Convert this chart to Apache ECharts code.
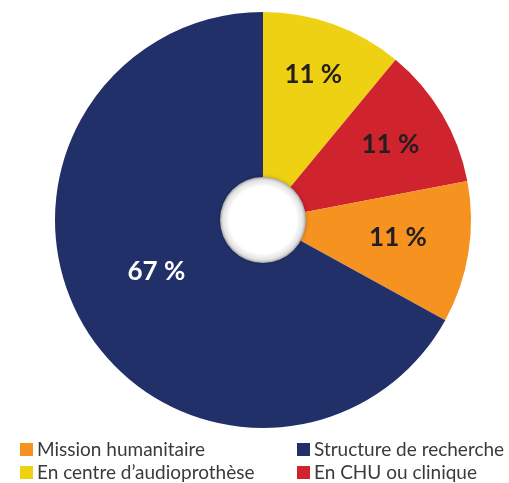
<!DOCTYPE html>
<html>
<head>
<meta charset="utf-8">
<script src="https://cdn.jsdelivr.net/npm/echarts@6/dist/echarts.min.js"></script>
<style>html,body{margin:0;padding:0;background:#fff}#c{width:509px;height:483px}</style>
</head>
<body>
<div id="c"></div>
<script>
// Data
var categories = ["En centre d\u2019audioprothèse", "En CHU ou clinique", "Mission humanitaire", "Structure de recherche"];
var values = [11, 11, 11, 67];
var legendOrder = ["Mission humanitaire", "Structure de recherche", "En centre d\u2019audioprothèse", "En CHU ou clinique"];

// Styles
var colors = ["#efd113", "#cf232d", "#f6921f", "#22306a"];
var labelColors = ["#231f20", "#231f20", "#231f20", "#ffffff"];
var labelRadialShift = [26, 20, 8, -10];
var labelTangentShift = [-2, 0, -4, 10];
var legendPos = [[20, 440], [297, 440], [20, 463], [297, 463]];
var CX = 263, CY = 220, R0 = 42, R = 208;

var chart = echarts.init(document.getElementById('c'));
var legendText = { fontSize: 19, color: '#3a3a3a', fontFamily: 'Lato', padding: [0, 0, 0, -1] };
chart.setOption({
  animation: false,
  color: colors,
  legend: legendOrder.map(function (name, i) {
    return { data: [name], left: legendPos[i][0], top: legendPos[i][1], padding: 0, icon: 'rect', itemWidth: 13, itemHeight: 13, itemGap: 5, textStyle: legendText, selectedMode: false };
  }),
  series: [
    {
      type: 'pie',
      center: [CX, CY],
      radius: [R0, R],
      startAngle: 90,
      clockwise: true,
      data: categories.map(function (c, i) { return { name: c, value: values[i], label: { color: labelColors[i] } }; }),
      label: {
        position: 'inside',
        formatter: function (p) { return p.value + ' %'; },
        fontFamily: 'Lato',
        fontWeight: 'bold',
        fontSize: 26
      },
      itemStyle: { borderWidth: 0 },
      labelLine: { show: false },
      labelLayout: function (p) {
        var r = p.labelRect;
        var mx = r.x + r.width / 2 - CX, my = r.y + r.height / 2 - CY;
        var d = Math.sqrt(mx * mx + my * my) || 1;
        var ux = mx / d, uy = my / d;
        var s = labelRadialShift[p.dataIndex], t = labelTangentShift[p.dataIndex];
        return { dx: ux * s - uy * t, dy: uy * s + ux * t };
      },
      emphasis: { disabled: true }
    },
    {
      type: 'pie',
      center: [CX, CY],
      radius: [0, R0 + 1],
      silent: true,
      z: 5,
      label: { show: false },
      labelLine: { show: false },
      data: [{ name: 'hole', value: 1 }],
      itemStyle: {
        color: {
          type: 'radial', x: 0.5, y: 0.5, r: 0.5,
          colorStops: [
            { offset: 0, color: '#ffffff' },
            { offset: 0.78, color: '#ffffff' },
            { offset: 0.93, color: '#e2e2e2' },
            { offset: 1, color: '#a8a8a8' }
          ]
        },
        shadowBlur: 4,
        shadowColor: 'rgba(0,0,0,0.25)'
      },
      emphasis: { disabled: true }
    }
  ]
});
</script>
</body>
</html>
